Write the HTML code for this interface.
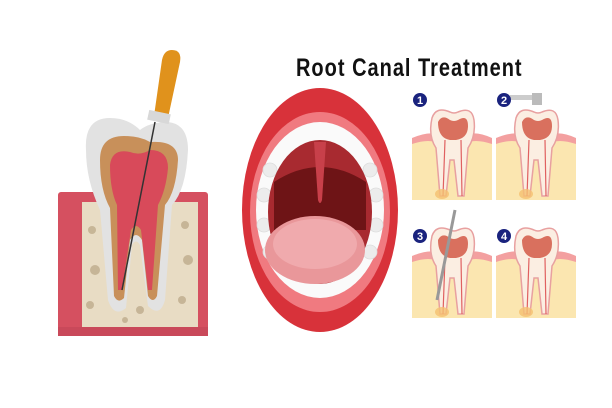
<!DOCTYPE html>
<html><head><style>
html,body{margin:0;padding:0;background:#fff;width:612px;height:408px;overflow:hidden}
</style></head><body>
<svg width="612" height="408" viewBox="0 0 612 408" xmlns="http://www.w3.org/2000/svg">
<defs>
<symbol id="t" viewBox="0 0 80 100">
  <rect x="0" y="30" width="80" height="62" fill="#fbe6b0"/>
  <path d="M0 30 Q20 22 28 28 L52 28 Q62 22 80 30 L80 36 Q62 30 52 36 L28 36 Q18 30 0 36Z" fill="#f3a0a0"/>
  <path d="M20 10 Q24 -2 38 4 Q42 6 46 4 Q60 -2 62 12 Q64 28 56 40 L52 88 L46 88 L42 52 L38 52 L34 88 L28 88 L24 40 Q16 28 20 10Z" fill="#fbeee2" stroke="#e8a0a0" stroke-width="1.5"/>
  <path d="M26 14 Q30 6 38 12 Q42 14 46 12 Q56 6 56 18 Q56 30 44 32 L38 32 Q26 30 26 14Z" fill="#d9705e"/>
  <path d="M33 32 L31 88 M49 32 L50 88" stroke="#e06060" stroke-width="1.2" fill="none"/>
  <ellipse cx="30" cy="86" rx="7" ry="5" fill="#f5c070" opacity="0.8"/>
</symbol>
</defs>
<!-- left tooth block -->
<rect x="58" y="192" width="150" height="144" fill="#d55060" rx="3"/>
<rect x="82" y="202" width="116" height="126" fill="#e8dcc4"/>
<g fill="#b9a585" opacity="0.7">
<circle cx="92" cy="230" r="4"/><circle cx="95" cy="270" r="5"/><circle cx="90" cy="305" r="4"/><circle cx="185" cy="225" r="4"/><circle cx="188" cy="260" r="5"/><circle cx="182" cy="300" r="4"/><circle cx="140" cy="310" r="4"/><circle cx="125" cy="320" r="3"/>
</g>
<rect x="58" y="327" width="150" height="9" fill="#c9495a"/>
<path d="M86 150 Q84 118 110 118 Q128 118 140 130 Q150 122 168 122 Q188 124 188 150 Q186 190 172 205 L165 300 Q160 318 148 306 L140 245 Q136 238 132 245 L126 308 Q114 318 108 300 L100 210 Q86 180 86 150Z" fill="#e2e2e2"/>
<path d="M100 160 Q100 136 124 136 Q140 136 150 142 Q178 140 178 160 Q176 192 165 205 L157 296 Q153 304 148 296 L142 240 Q136 230 130 240 L124 298 Q118 304 114 296 L110 208 Q100 190 100 160Z" fill="#c8905a"/>
<path d="M110 165 Q112 148 130 152 Q140 156 150 150 Q168 150 168 168 Q166 190 158 205 L152 290 L148 290 L141 230 Q136 222 131 230 L122 290 L118 290 L117 205 Q110 190 110 165Z" fill="#d84a5a"/>
<path d="M172 50 Q182 50 180 62 L168 118 L154 116 L162 60 Q164 50 172 50Z" fill="#e0921c"/>
<rect x="148" y="112" width="22" height="10" fill="#d8d8d8" transform="rotate(12 159 117)"/>
<line x1="155" y1="122" x2="122" y2="290" stroke="#333" stroke-width="1.5"/>
<!-- mouth -->
<ellipse cx="320" cy="210" rx="78" ry="122" fill="#d8323a"/>
<ellipse cx="320" cy="212" rx="70" ry="100" fill="#f07a80"/>
<ellipse cx="320" cy="210" rx="64" ry="88" fill="#fafafa"/>
<g fill="#ececec" stroke="#ddd" stroke-width="0.8">
<circle cx="270" cy="170" r="7"/><circle cx="264" cy="195" r="7"/><circle cx="264" cy="225" r="7"/><circle cx="270" cy="252" r="7"/>
<circle cx="370" cy="170" r="7"/><circle cx="376" cy="195" r="7"/><circle cx="376" cy="225" r="7"/><circle cx="370" cy="252" r="7"/>
</g>
<ellipse cx="320" cy="212" rx="52" ry="72" fill="#a82a30"/>
<path d="M274 182 Q320 152 366 182 L366 230 L274 230Z" fill="#6e1416"/>
<path d="M314 142 L326 142 L322 200 Q320 206 318 200Z" fill="#c8404a"/>
<ellipse cx="315" cy="250" rx="50" ry="34" fill="#e9979a"/>
<ellipse cx="315" cy="244" rx="42" ry="25" fill="#f0aaad"/>
<!-- title -->
<text x="296" y="76" font-family="Liberation Sans, sans-serif" font-weight="bold" font-size="25" fill="#111" transform="translate(296 0) scale(0.8 1) translate(-296 0)" textLength="282">Root Canal Treatment</text>
<!-- panels -->
<use href="#t" x="412" y="108" width="80" height="100"/>
<use href="#t" x="496" y="108" width="80" height="100"/>
<use href="#t" x="412" y="226" width="80" height="100"/>
<use href="#t" x="496" y="226" width="80" height="100"/>
<rect x="510" y="95" width="26" height="5" fill="#ccc"/><rect x="532" y="93" width="10" height="12" fill="#bbb"/>
<line x1="455" y1="210" x2="437" y2="300" stroke="#999" stroke-width="3"/>
<g font-family="Liberation Sans, sans-serif" font-weight="bold" font-size="11" fill="#fff" text-anchor="middle">
<circle cx="420" cy="100" r="7" fill="#1a237e"/><text x="420" y="104">1</text>
<circle cx="504" cy="100" r="7" fill="#1a237e"/><text x="504" y="104">2</text>
<circle cx="420" cy="236" r="7" fill="#1a237e"/><text x="420" y="240">3</text>
<circle cx="504" cy="236" r="7" fill="#1a237e"/><text x="504" y="240">4</text>
</g>
</svg>
</body></html>
